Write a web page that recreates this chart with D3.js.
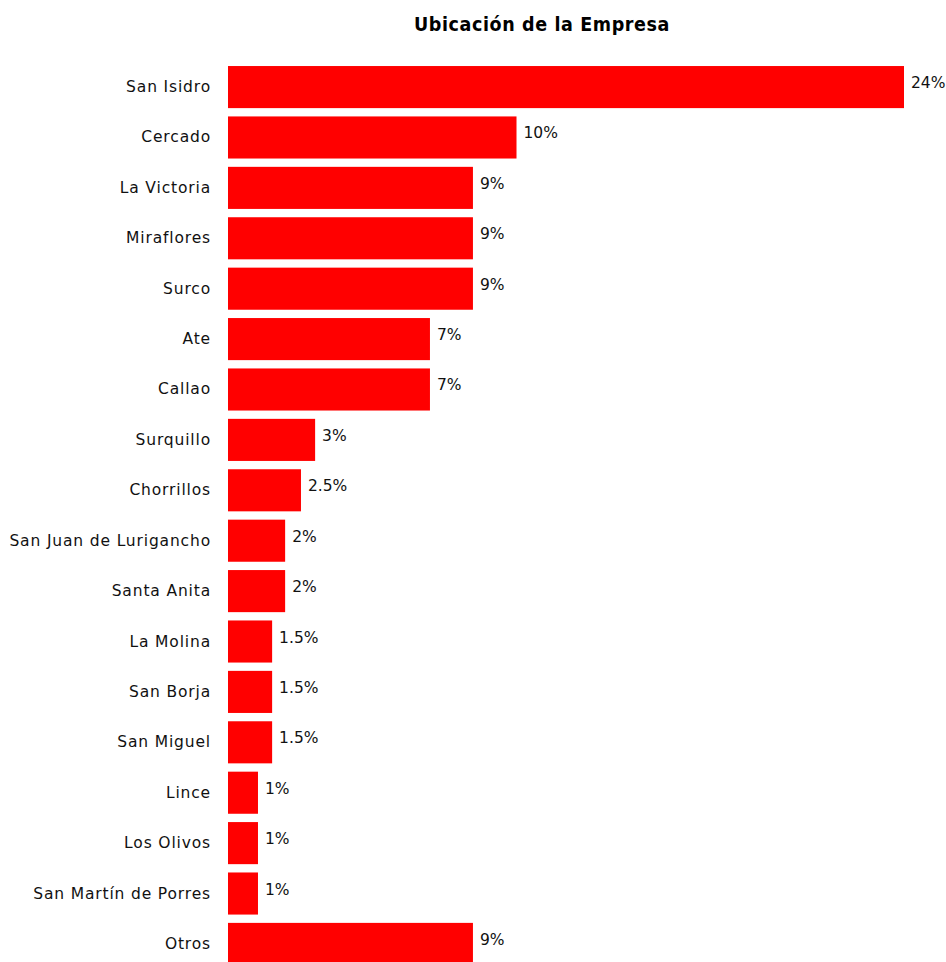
<!DOCTYPE html>
<html><head><meta charset="utf-8">
<script src="https://cdn.jsdelivr.net/npm/d3@7"></script>
<style>body{margin:0;background:#fff}</style>
</head><body>
<script>
const categories = ["San Isidro","Cercado","La Victoria","Miraflores","Surco","Ate","Callao","Surquillo","Chorrillos","San Juan de Lurigancho","Santa Anita","La Molina","San Borja","San Miguel","Lince","Los Olivos","San Martín de Porres","Otros"];
const values = [23.9,10.2,8.66,8.66,8.66,7.14,7.14,3.08,2.58,2.02,2.02,1.56,1.56,1.56,1.06,1.06,1.06,8.66];
const valueLabels = ["24%","10%","9%","9%","9%","7%","7%","3%","2.5%","2%","2%","1.5%","1.5%","1.5%","1%","1%","1%","9%"];
const title = "Ubicación de la Empresa";

const W = 946, H = 962;
const svg = d3.select("body").append("svg").attr("width", W).attr("height", H);
const x = d3.scaleLinear().domain([0, 23.9]).range([228, 904]);
const y = d3.scaleBand().domain(categories).range([62, 969]).paddingInner(0.165).paddingOuter(0.08);

svg.append("text").attr("x", 542).attr("y", 31).attr("text-anchor", "middle")
  .attr("font-family", "DejaVu Sans Condensed, DejaVu Sans").attr("font-weight", "bold").attr("font-size", 19.5)
  .attr("letter-spacing", 0.6)
  .attr("fill", "#000").text(title);

const data = categories.map((c, i) => ({c, v: values[i], l: valueLabels[i]}));

svg.selectAll("rect.bar").data(data).join("rect").attr("class", "bar")
  .attr("x", x(0)).attr("y", d => y(d.c)).attr("width", d => x(d.v) - x(0)).attr("height", y.bandwidth())
  .attr("fill", "#ff0000");

svg.selectAll("text.cat").data(data).join("text").attr("class", "cat")
  .attr("x", 211).attr("y", d => y(d.c) + y.bandwidth() / 2 + 5)
  .attr("text-anchor", "end").attr("font-family", "DejaVu Sans").attr("font-size", 15.5)
  .attr("letter-spacing", 0.85)
  .attr("fill", "#111").text(d => d.c);

svg.selectAll("text.val").data(data).join("text").attr("class", "val")
  .attr("x", d => x(d.v) + 7).attr("y", d => y(d.c) + y.bandwidth() / 2 + 1)
  .attr("font-family", "DejaVu Sans").attr("font-size", 15.5)
  .attr("fill", "#111").text(d => d.l);
</script>
</body></html>
